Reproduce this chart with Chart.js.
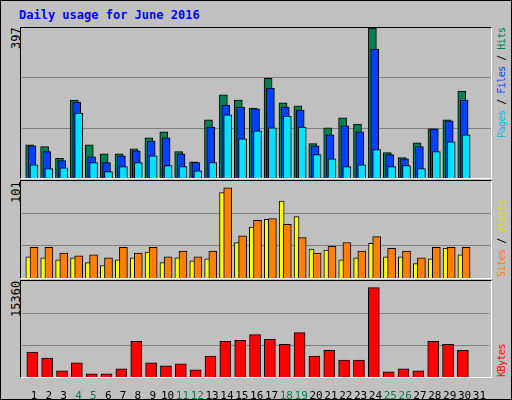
<!DOCTYPE html>
<html>
<head>
<meta charset="utf-8">
<script src="https://cdn.jsdelivr.net/npm/chart.js@4/dist/chart.umd.min.js"></script>
<style>
  body { margin: 0; background: #c0c0c0; }
  #frame { position: absolute; left: 0; top: 0; width: 510px; height: 398px; border: 1px solid #000;
           background: #c0c0c0; font-family: "DejaVu Sans Mono", monospace; }
  .panel { position: absolute; left: 19px; width: 470px; border-top: 1px solid #000; border-left: 1px solid #000;
           border-right: 1px solid #fff; border-bottom: 1px solid #fff; }
  canvas { position: absolute; }
  .vl { position: absolute; transform-origin: left top; transform: rotate(-90deg); white-space: nowrap; font-size: 12px; line-height: 14px; }
  .rl { font-size: 10px; letter-spacing: -0.5px; }
  #title { position: absolute; left: 18px; top: 7px; color: #0000ff; font-weight: bold; font-size: 12px; }
</style>
</head>
<body>
<div id="frame">
  <div id="title">Daily usage for June 2016</div>
  <div class="panel" style="top:26px;height:150px"></div>
  <div class="panel" style="top:179px;height:97px"></div>
  <div class="panel" style="top:279px;height:96px"></div>
  <div class="vl" style="left:8px;top:48px;color:#000">397</div>
  <div class="vl" style="left:8px;top:202px;color:#000">101</div>
  <div class="vl" style="left:8px;top:316px;color:#000">15360</div>
  <div class="vl rl" style="left:494px;top:137px"><span style="color:#00c0e0">Pages</span> / <span style="color:#0040ff">Files</span> / <span style="color:#008050">Hits</span></div>
  <div class="vl rl" style="left:494px;top:276px"><span style="color:#ff8000">Sites</span> / <span style="color:#e0e000">Visits</span></div>
  <div class="vl rl" style="left:494px;top:376px;color:#ff0000">KBytes</div>
  <canvas id="c1" style="left:21px;top:27px" width="469" height="150"></canvas>
  <canvas id="c2" style="left:21px;top:180px" width="469" height="97"></canvas>
  <canvas id="c3" style="left:21px;top:280px" width="469" height="118"></canvas>
</div>
<script>
const days = Array.from({length: 31}, (_, i) => i + 1);
const weekendDays = [4, 5, 11, 12, 18, 19, 25, 26];
const hits   = [88, 83, 52, 206, 88, 64, 64, 77, 106, 122, 70, 43, 154, 220, 206, 185, 264, 199, 191, 91, 133, 159, 143, 397, 67, 54, 93, 130, 154, 230];
const files  = [85, 70, 46, 201, 56, 41, 59, 72, 98, 106, 64, 41, 135, 193, 188, 183, 238, 188, 180, 85, 114, 138, 122, 341, 62, 51, 83, 130, 151, 206];
const pages  = [35, 25, 27, 172, 41, 17, 30, 41, 59, 33, 30, 19, 41, 167, 104, 125, 133, 164, 135, 62, 51, 30, 35, 75, 30, 33, 25, 70, 96, 114];
const visits = [22, 21, 19, 21, 16, 13, 19, 21, 27, 16, 21, 18, 20, 89, 37, 53, 61, 80, 64, 30, 29, 19, 21, 36, 22, 22, 15, 20, 31, 24];
const sites  = [32, 32, 26, 23, 24, 21, 32, 26, 32, 22, 28, 22, 28, 94, 44, 60, 62, 56, 42, 26, 33, 37, 28, 43, 31, 28, 21, 32, 32, 32];
const kbytes = [3970, 3030, 990, 2250, 520, 520, 1310, 5690, 2250, 1780, 2090, 1150, 3340, 5690, 5850, 6790, 6010, 5220, 7100, 3340, 4280, 2720, 2720, 14310, 840, 1310, 990, 5690, 5220, 4280];
const yMax = [397, 101, 15360];

const X_MIN = 0.195, X_MAX = 31.67;
const pts = (arr, off) => arr.map((v, i) => ({x: i + 1 + off, y: v}));
const ds = (data, off, color, w, order) => ({
  data: pts(data, off), backgroundColor: color, borderColor: '#000', borderWidth: 1,
  borderSkipped: 'bottom', barThickness: w, grouped: false, order: order
});

function makeChart(id, datasets, max, showX) {
  new Chart(document.getElementById(id), {
    type: 'bar',
    data: { datasets },
    options: {
      responsive: false, animation: false, events: [],
      layout: { padding: 0 },
      plugins: { legend: { display: false }, tooltip: { enabled: false } },
      scales: {
        x: {
          type: 'linear', min: X_MIN, max: X_MAX, offset: false,
          display: showX,
          grid: { display: false }, border: { display: false },
          afterBuildTicks: s => { s.ticks = days.map(d => ({value: d})); },
          afterFit: s => { s.height = showX ? 22 : 0; },
          ticks: {
            autoSkip: false, maxRotation: 0, padding: 5,
            font: { family: 'DejaVu Sans Mono', size: 11 },
            color: c => weekendDays.includes(c.tick.value) ? '#008050' : '#000',
            callback: v => String(v)
          }
        },
        y: {
          min: 0, max: max,
          afterBuildTicks: s => { s.ticks = [{value: max / 3}, {value: 2 * max / 3}]; },
          afterFit: s => { s.width = 0; },
          ticks: { display: false },
          grid: { color: '#808080', drawTicks: false, lineWidth: 1 },
          border: { display: false }
        }
      }
    }
  });
}

makeChart('c1', [
  ds(hits, -0.29, '#008050', 8, 3),
  ds(files, -0.135, '#0040ff', 8, 2),
  ds(pages, 0, '#00e0ff', 8, 1)
], yMax[0], false);
makeChart('c2', [
  ds(visits, -0.38, '#ffff00', 5, 2),
  ds(sites, 0, '#ff8000', 8, 1)
], yMax[1], false);
makeChart('c3', [
  ds(kbytes, -0.11, '#ff0000', 11, 1)
], yMax[2], true);
</script>
</body>
</html>
